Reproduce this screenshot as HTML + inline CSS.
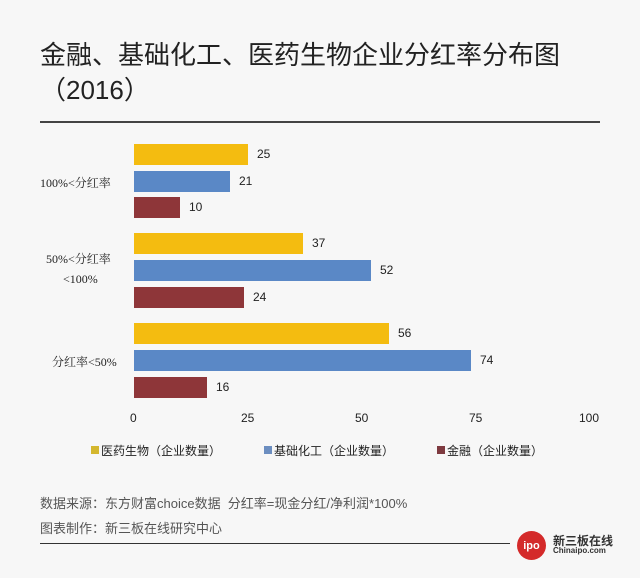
<!DOCTYPE html>
<html><head><meta charset="utf-8"><style>
body{margin:0;width:640px;height:578px;background:#f7f7f7;font-family:"Liberation Sans","Noto Sans CJK SC",sans-serif;position:relative;overflow:hidden;color:#222}
.a{position:absolute;white-space:nowrap}
.bar{position:absolute;left:134px;height:21px}
.y{background:#F4BC10}.b{background:#5A88C6}.r{background:#8E3639}
.v{position:absolute;font-size:12px;color:#222}
.t{font-size:12px;color:#222}
</style></head><body>
<div class="a" style="left:40px;top:35px;font-size:26px;color:#222">金融、基础化工、医药生物企业分红率分布图</div>
<div class="a" style="left:40px;top:70px;font-size:26px;color:#222">（2016）</div>
<div class="a" style="left:40px;top:121px;width:560px;height:2px;background:#444"></div>

<div class="bar y" style="top:144px;width:114px"></div><div class="v" style="left:257px;top:147px">25</div>
<div class="bar b" style="top:171px;width:96px"></div><div class="v" style="left:239px;top:174px">21</div>
<div class="bar r" style="top:197px;width:46px"></div><div class="v" style="left:189px;top:200px">10</div>
<div class="bar y" style="top:233px;width:169px"></div><div class="v" style="left:312px;top:236px">37</div>
<div class="bar b" style="top:260px;width:237px"></div><div class="v" style="left:380px;top:263px">52</div>
<div class="bar r" style="top:287px;width:110px"></div><div class="v" style="left:253px;top:290px">24</div>
<div class="bar y" style="top:323px;width:255px"></div><div class="v" style="left:398px;top:326px">56</div>
<div class="bar b" style="top:350px;width:337px"></div><div class="v" style="left:480px;top:353px">74</div>
<div class="bar r" style="top:377px;width:73px"></div><div class="v" style="left:216px;top:380px">16</div>

<div class="a t" style="left:40px;top:174px;font-family:'Liberation Serif','Noto Serif CJK SC',serif">100%&lt;分红率</div>
<div class="a t" style="left:46px;top:250px;font-family:'Liberation Serif','Noto Serif CJK SC',serif">50%&lt;分红率</div>
<div class="a t" style="left:63px;top:272px;font-family:'Liberation Serif','Noto Serif CJK SC',serif">&lt;100%</div>
<div class="a t" style="left:52px;top:353px;font-family:'Liberation Serif','Noto Serif CJK SC',serif">分红率&lt;50%</div>

<div class="a t" style="left:130px;top:411px">0</div>
<div class="a t" style="left:241px;top:411px">25</div>
<div class="a t" style="left:355px;top:411px">50</div>
<div class="a t" style="left:469px;top:411px">75</div>
<div class="a t" style="left:579px;top:411px">100</div>

<div class="a" style="left:91px;top:446px;width:8px;height:8px;background:#D4B72E"></div>
<div class="a t" style="left:101px;top:442px">医药生物（企业数量）</div>
<div class="a" style="left:264px;top:446px;width:8px;height:8px;background:#6C8EC0"></div>
<div class="a t" style="left:274px;top:442px">基础化工（企业数量）</div>
<div class="a" style="left:437px;top:446px;width:8px;height:8px;background:#7E3A40"></div>
<div class="a t" style="left:447px;top:442px">金融（企业数量）</div>

<div class="a" style="left:40px;top:493px;font-size:13px;color:#555">数据来源：东方财富choice数据&nbsp; 分红率=现金分红/净利润*100%</div>
<div class="a" style="left:40px;top:518px;font-size:13px;color:#555">图表制作：新三板在线研究中心</div>
<div class="a" style="left:40px;top:543px;width:470px;height:1px;background:#333"></div>
<div class="a" style="left:517px;top:531px;width:29px;height:29px;border-radius:50%;background:#D42A2A;color:#fff;font-size:11px;font-weight:bold;text-align:center;line-height:31px">ipo</div>
<div class="a" style="left:553px;top:532px;font-size:12px;font-weight:bold;color:#333">新三板在线</div>
<div class="a" style="left:553px;top:546px;font-size:8px;font-weight:bold;color:#333">Chinaipo.com</div>
</body></html>
